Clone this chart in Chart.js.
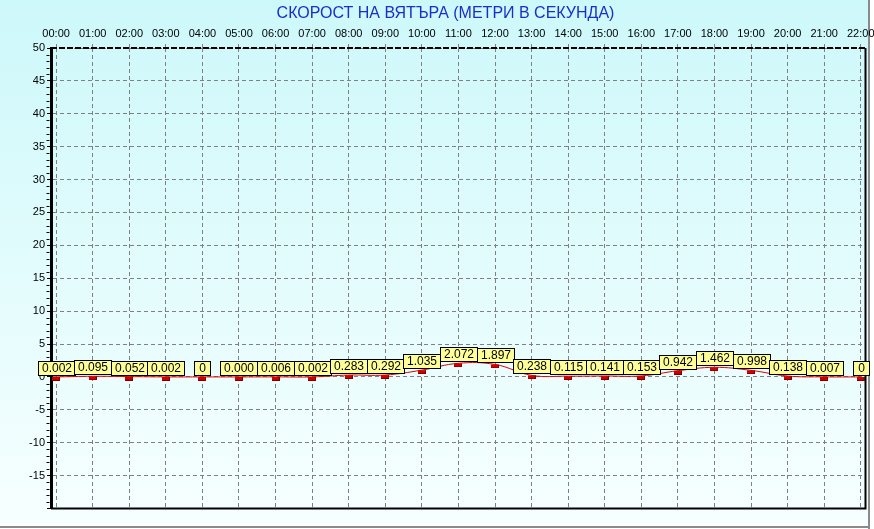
<!DOCTYPE html>
<html><head><meta charset="utf-8">
<script src="https://cdn.jsdelivr.net/npm/chart.js@4/dist/chart.umd.min.js"></script>
<style>
html,body{margin:0;padding:0;background:#fff;}
#wrap{position:relative;width:874px;height:529px;}
canvas{display:block;}
</style></head><body>
<div id="wrap"><canvas id="c"></canvas></div>
<script>
const chartTitle = 'СКОРОСТ НА ВЯТЪРА (МЕТРИ В СЕКУНДА)';
const hours = ['00:00','01:00','02:00','03:00','04:00','05:00','06:00','07:00','08:00','09:00','10:00','11:00',
               '12:00','13:00','14:00','15:00','16:00','17:00','18:00','19:00','20:00','21:00','22:00'];
const windSpeed = [0.002,0.095,0.052,0.002,0,0.000,0.006,0.002,0.283,0.292,1.035,2.072,
                   1.897,0.238,0.115,0.141,0.153,0.942,1.462,0.998,0.138,0.007,0];
const speedLabels = ['0.002','0.095','0.052','0.002','0','0.000','0.006','0.002','0.283','0.292','1.035','2.072',
                     '1.897','0.238','0.115','0.141','0.153','0.942','1.462','0.998','0.138','0.007','0'];
const yTickLabels = [50,45,40,35,30,25,20,15,10,5,0,-5,-10,-15];

const FONT = '"Liberation Sans", Arial, sans-serif';

// marker image
const marker = document.createElement('canvas');
marker.width = 8; marker.height = 8;
(function(){
  const m = marker.getContext('2d');
  m.fillStyle = '#d00000'; m.fillRect(0,4,8,4);
  m.fillStyle = '#7a0000'; m.fillRect(0,7,8,1); m.fillRect(7,4,1,4);
})();

const backgroundPlugin = {
  id: 'panelBg',
  beforeDraw(chart) {
    const ctx = chart.ctx;
    const W = chart.width - 6, H = chart.height - 2;
    ctx.save();
    ctx.fillStyle = '#ffffff';
    ctx.fillRect(0, 0, chart.width, chart.height);
    const g = ctx.createLinearGradient(0, 0, 0, H);
    g.addColorStop(0, '#cdf8fa');
    g.addColorStop(1, '#f7ffff');
    ctx.fillStyle = g;
    ctx.fillRect(0, 0, W, H);
    ctx.fillStyle = '#8a8a8a';
    ctx.fillRect(W, 0, 2, H + 2);
    ctx.fillRect(0, H - 1, W + 2, 2);
    ctx.restore();
  }
};

const titlePlugin = {
  id: 'topTitle',
  afterDraw(chart) {
    const ctx = chart.ctx;
    ctx.save();
    ctx.font = '16px ' + FONT;
    ctx.fillStyle = '#1a2ecc';
    ctx.textAlign = 'center';
    ctx.textBaseline = 'middle';
    ctx.fillText(chartTitle, 445.5, 14);
    ctx.restore();
  }
};

const framePlugin = {
  id: 'frame',
  beforeDatasetsDraw(chart) {
    const {ctx, chartArea: a, scales: {y}} = chart;
    ctx.save();
    ctx.strokeStyle = '#000';
    ctx.lineWidth = 1;
    for (let v = Math.ceil(y.min); v <= y.max; v++) {
      if (v % 5 === 0) continue;
      const py = Math.round(y.getPixelForValue(v)) + 0.5;
      ctx.beginPath(); ctx.moveTo(a.left - 4.5, py); ctx.lineTo(a.left - 1.5, py); ctx.stroke();
    }
    ctx.lineWidth = 2;
    ctx.setLineDash([6,2]);
    ctx.beginPath(); ctx.moveTo(a.left, a.top); ctx.lineTo(a.right, a.top); ctx.stroke();
    ctx.setLineDash([]);
    ctx.beginPath(); ctx.moveTo(a.right, a.top); ctx.lineTo(a.right, a.bottom); ctx.lineTo(a.left, a.bottom); ctx.stroke();
    ctx.restore();
  }
};

const labelPlugin = {
  id: 'valueBoxes',
  afterDatasetsDraw(chart) {
    const ctx = chart.ctx;
    const meta = chart.getDatasetMeta(0);
    ctx.save();
    ctx.font = '12px ' + FONT;
    ctx.lineWidth = 1;
    meta.data.forEach((pt, i) => {
      const txt = speedLabels[i];
      const w = Math.max(Math.round(ctx.measureText(txt).width) + 7, 16);
      const h = 14;
      const x = Math.round(pt.x - w / 2) + 0.5;
      const yb = Math.round(pt.y) - 2 + 0.5;
      ctx.fillStyle = '#ffff99';
      ctx.fillRect(x, yb - h, w, h);
      ctx.strokeStyle = '#000';
      ctx.strokeRect(x, yb - h, w, h);
      ctx.fillStyle = '#000';
      ctx.textAlign = 'center';
      ctx.textBaseline = 'middle';
      ctx.fillText(txt, x + w / 2, yb - h / 2 + 0.5);
    });
    ctx.restore();
  }
};

new Chart(document.getElementById('c'), {
  type: 'line',
  data: {
    datasets: [{
      data: hours.map((h, i) => ({x: i, y: windSpeed[i]})),
      borderColor: '#e00000',
      borderWidth: 1,
      tension: 0.4,
      pointStyle: marker,
      pointRadius: 4,
      fill: false
    }]
  },
  options: {
    responsive: true,
    maintainAspectRatio: false,
    animation: false,
    layout: {padding: {left: 0, right: 8.5, top: 27.2, bottom: 20.5}},
    plugins: {
      legend: {display: false},
      tooltip: {enabled: false},
      title: {display: false}
    },
    scales: {
      x: {
        type: 'linear', position: 'top', min: -0.14, max: 22.13,
        afterFit(s) { s.height = 20.8; s.paddingLeft = 0; s.paddingRight = 0; },
        ticks: {
          stepSize: 1, includeBounds: false, autoSkip: false, maxRotation: 0, minRotation: 0,
          padding: 3, color: '#000', font: {family: FONT, size: 11},
          callback: (v) => hours[v] ?? ''
        },
        grid: {color: '#808080', lineWidth: 1, tickLength: 4, tickColor: '#808080'},
        border: {display: false, dash: [4, 3]}
      },
      y: {
        min: -20, max: 50,
        afterFit(s) { s.width = 51; s.paddingTop = 0; s.paddingBottom = 0; },
        ticks: {
          stepSize: 5, padding: 2, color: '#000', font: {family: FONT, size: 11},
          callback: (v) => yTickLabels.includes(v) ? String(v) : ''
        },
        grid: {color: '#808080', lineWidth: 1, tickLength: 4, tickColor: '#000', tickBorderDash: []},
        border: {display: true, color: '#000', width: 3, dash: [4, 3]}
      }
    }
  },
  plugins: [backgroundPlugin, framePlugin, labelPlugin, titlePlugin]
});
</script>
</body></html>
